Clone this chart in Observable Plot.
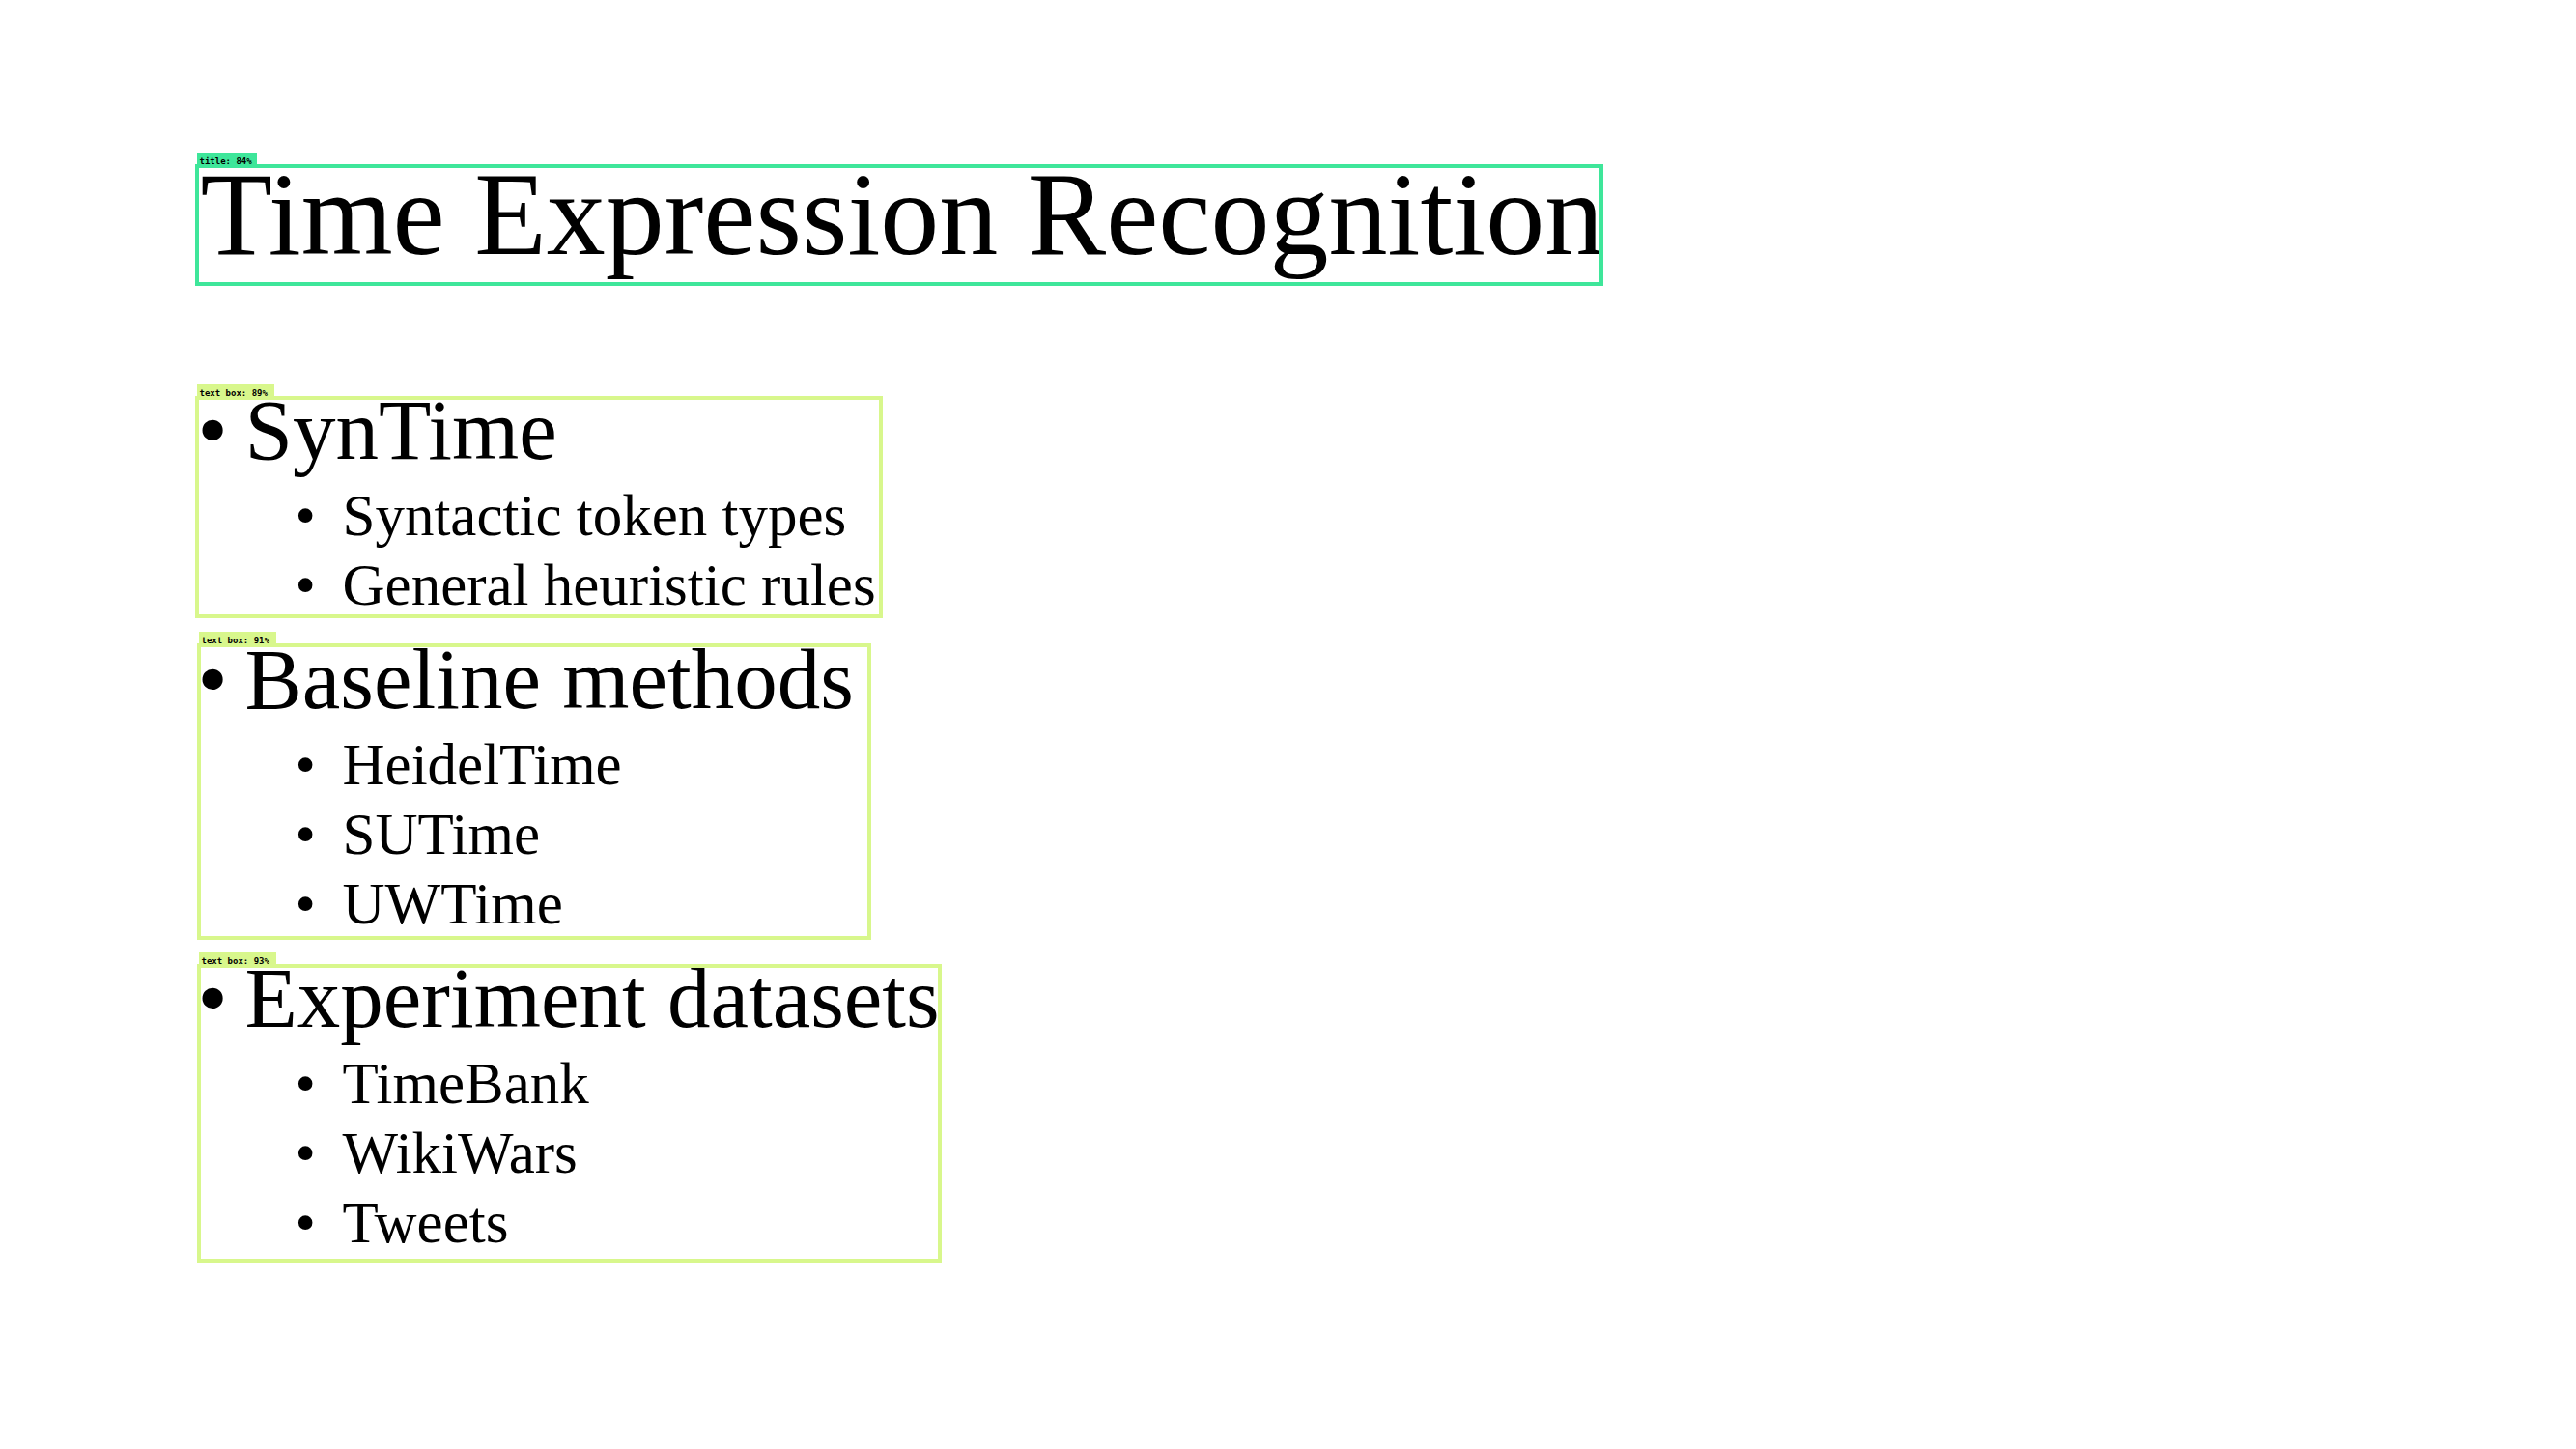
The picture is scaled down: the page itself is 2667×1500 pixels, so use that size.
<!DOCTYPE html>
<html>
<head>
<meta charset="utf-8">
<script src="https://cdn.jsdelivr.net/npm/d3@7"></script>
<script src="https://cdn.jsdelivr.net/npm/@observablehq/plot@0.6"></script>
<style>
  body { margin: 0; background: #fff; }
</style>
</head>
<body>
<div id="chart"></div>
<script>
// Slide content
const title = "Time Expression Recognition";
const items = [
  "SynTime", "Syntactic token types", "General heuristic rules",
  "Baseline methods", "HeidelTime", "SUTime", "UWTime",
  "Experiment datasets", "TimeBank", "WikiWars", "Tweets"
];
const levels = [0, 1, 1, 0, 1, 1, 1, 0, 1, 1, 1];

// Detection boxes drawn over the slide
const boxLabels = ["title: 84%", "text box: 89%", "text box: 91%", "text box: 93%"];
const boxKinds = ["title", "text", "text", "text"];
const boxX1 = [204, 204, 206, 206];
const boxY1 = [172, 412, 668, 1000];
const boxX2 = [1658, 912, 900, 973];
const boxY2 = [294, 638, 971, 1305];

// lay out lines: baseline positions from the level sequence
let y = 474;
const rows = items.map((t, i) => {
  if (i > 0) {
    const prev = levels[i - 1], cur = levels[i];
    y += cur === 0 ? 107 : prev === 0 ? 79 : 72;
  }
  return { text: t, level: levels[i], y };
});

const boxes = boxLabels.map((l, i) => ({
  label: l, kind: boxKinds[i], x1: boxX1[i], y1: boxY1[i], x2: boxX2[i], y2: boxY2[i]
}));

const boxColor = k => k === "title" ? "#3ee69a" : "#d8f78c";
const font = "Liberation Serif, Times New Roman, serif";

const chart = Plot.plot({
  width: 2667,
  height: 1500,
  margin: 0,
  x: { domain: [0, 2667], axis: null },
  y: { domain: [0, 1500], range: [0, 1500], axis: null },
  marks: [
    Plot.text([title], {
      x: 207, y: 262, text: d => d, textAnchor: "start", lineAnchor: "bottom",
      fontSize: 122, fontFamily: font, fill: "black"
    }),
    Plot.text(rows, {
      x: d => d.level === 0 ? 204 : 305, y: "y", text: () => "•",
      textAnchor: "start", lineAnchor: "bottom",
      fontSize: d => d.level === 0 ? 89 : 61, fontFamily: font, fill: "black"
    }),
    Plot.text(rows, {
      x: d => d.level === 0 ? 253 : 354, y: "y", text: "text",
      textAnchor: "start", lineAnchor: "bottom",
      fontSize: d => d.level === 0 ? 89 : 61, fontFamily: font, fill: "black"
    }),
    Plot.rect(boxes, {
      x1: "x1", y1: "y1", x2: "x2", y2: "y2",
      fill: "none", stroke: d => boxColor(d.kind), strokeWidth: 4
    }),
    Plot.rect(boxes, {
      x1: "x1", y1: d => d.y1 - 14, x2: d => d.x1 + (d.kind === "title" ? 62 : 80), y2: "y1",
      fill: d => boxColor(d.kind)
    }),
    Plot.text(boxes, {
      x: d => d.x1 + 2, y: d => d.y1 - 3, text: "label", textAnchor: "start",
      lineAnchor: "bottom", fontSize: 9, fontWeight: "bold",
      fontFamily: "DejaVu Sans Mono, monospace", fill: "black"
    })
  ]
});
document.getElementById("chart").append(chart);
</script>
</body>
</html>
